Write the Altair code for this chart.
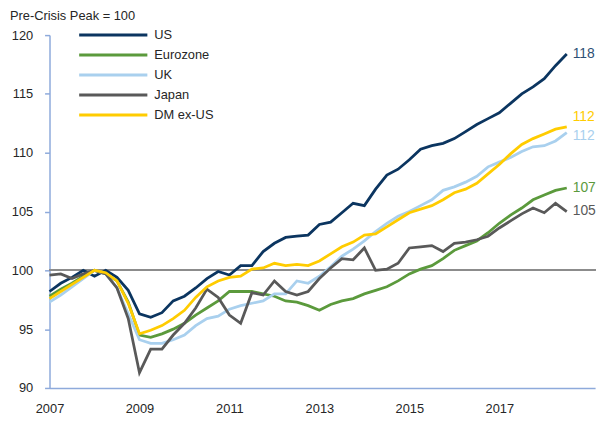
import altair as alt
import pandas as pd

# ---- data (quarterly, 2007 Q1 .. 2018 Q3; pre-crisis peak = 100) ----
series_names = ["US", "Eurozone", "UK", "Japan", "DM ex-US"]
series_colors = ["#0b3560", "#5b9a3c", "#a9d0ee", "#595959", "#ffcc00"]
label_colors = ["#2d4f74", "#5b9a3c", "#a9d0ee", "#595959", "#ffcc00"]

start_year = 2007
n_quarters = 47

us = [98.2, 98.9, 99.4, 100.0, 99.5, 100.0, 99.4, 98.3, 96.3, 96.0, 96.4, 97.4, 97.8, 98.5,
      99.3, 99.9, 99.6, 100.4, 100.4, 101.6, 102.3, 102.8, 102.9, 103.0, 103.9, 104.1, 104.9,
      105.7, 105.5, 106.9, 108.1, 108.6, 109.4, 110.3, 110.6, 110.8, 111.2, 111.8, 112.4, 112.9,
      113.4, 114.2, 115.0, 115.6, 116.3, 117.4, 118.4]
eurozone = [97.8, 98.4, 98.9, 99.5, 100.0, 99.7, 99.1, 97.3, 94.5, 94.3, 94.6, 95.0, 95.5, 96.2,
            96.8, 97.4, 98.2, 98.2, 98.2, 98.0, 97.8, 97.4, 97.3, 97.0, 96.6, 97.1, 97.4, 97.6,
            98.0, 98.3, 98.6, 99.1, 99.7, 100.1, 100.4, 101.0, 101.7, 102.1, 102.5, 103.2, 104.0,
            104.7, 105.3, 106.0, 106.4, 106.8, 107.0]
uk = [97.3, 97.9, 98.6, 99.3, 100.0, 99.7, 98.5, 96.3, 94.1, 93.8, 93.8, 94.1, 94.5, 95.3, 95.9,
      96.1, 96.7, 97.0, 97.2, 97.4, 98.0, 98.0, 99.1, 98.9, 99.5, 100.3, 101.2, 101.8, 102.5,
      103.3, 104.0, 104.6, 105.0, 105.5, 106.0, 106.8, 107.1, 107.5, 108.0, 108.8, 109.2, 109.6,
      110.1, 110.5, 110.6, 111.0, 111.7]
japan = [99.6, 99.7, 99.3, 99.7, 100.0, 99.7, 98.5, 95.9, 91.3, 93.3, 93.3, 94.5, 95.5, 96.8,
         98.4, 97.7, 96.2, 95.5, 98.1, 97.9, 99.1, 98.2, 97.9, 98.2, 99.3, 100.2, 101.0, 100.9,
         101.9, 100.0, 100.1, 100.6, 101.9, 102.0, 102.1, 101.6, 102.3, 102.4, 102.6, 102.9,
         103.6, 104.2, 104.8, 105.3, 104.9, 105.7, 105.0]
dm_ex_us = [97.6, 98.2, 98.8, 99.4, 100.0, 99.8, 99.1, 97.2, 94.6, 94.9, 95.3, 95.9, 96.6, 97.7,
            98.6, 99.1, 99.4, 99.5, 100.1, 100.2, 100.6, 100.4, 100.5, 100.4, 100.8, 101.4, 102.0,
            102.4, 103.0, 103.1, 103.7, 104.3, 104.9, 105.2, 105.5, 106.0, 106.6, 106.9, 107.4,
            108.2, 109.0, 109.9, 110.7, 111.2, 111.6, 112.0, 112.2]

x_ticks = [2007, 2009, 2011, 2013, 2015, 2017]
y_ticks = [90, 95, 100, 105, 110, 115, 120]
title_text = "Pre-Crisis Peak = 100"

# ---- build tables ----
quarters = [start_year + i / 4 for i in range(n_quarters)]
values = [us, eurozone, uk, japan, dm_ex_us]
rows = []
for name, vals in zip(series_names, values):
    for q, v in zip(quarters, vals):
        rows.append({"series": name, "t": q, "value": v})
df = pd.DataFrame(rows)

end_df = pd.DataFrame({
    "series": series_names,
    "t": [quarters[-1]] * len(series_names),
    "value": [v[-1] for v in values],
    "label": [str(int(round(v[-1]))) for v in values],
    "lc": label_colors,
})
legend_df = pd.DataFrame({"series": series_names, "row": list(range(len(series_names)))})

FONT = "Liberation Sans, Arial, sans-serif"
AXIS_COLOR = "#8eaadb"
TEXT_COLOR = "#262626"

color_scale = alt.Scale(domain=series_names, range=series_colors)
x_enc = alt.X("t:Q", scale=alt.Scale(domain=[2007, 2019.13], nice=False, zero=False),
              axis=alt.Axis(values=x_ticks, format="d", title=None, ticks=False,
                            labelPadding=15, grid=False, labelFlush=False,
                            domain=True, domainColor=AXIS_COLOR, domainWidth=1.5,
                            labelFont=FONT, labelFontSize=13, labelColor=TEXT_COLOR))
y_enc = alt.Y("value:Q", scale=alt.Scale(domain=[90, 120], nice=False, zero=False),
              axis=alt.Axis(values=y_ticks, title=None, ticks=True, tickSize=5,
                            tickColor=AXIS_COLOR, tickWidth=1.5, labelPadding=12,
                            grid=False, labelFlush=False,
                            domain=True, domainColor=AXIS_COLOR, domainWidth=1.5,
                            labelFont=FONT, labelFontSize=13, labelColor=TEXT_COLOR))

base = alt.Chart(df)

ref = alt.Chart(df).mark_rule(color="#8c8c8c", strokeWidth=1.5).encode(y=alt.datum(100))

lines = base.mark_line(strokeWidth=2.8).encode(
    x=x_enc, y=y_enc,
    color=alt.Color("series:N", scale=color_scale, legend=None),
    detail="series:N",
    order="t:Q",
)

end_base = alt.Chart(end_df).encode(
    x="t:Q", y="value:Q", text="label:N",
    color=alt.Color("lc:N", scale=None),
)
end_main = end_base.transform_filter(
    "datum.series != 'DM ex-US' && datum.series != 'UK'"
).mark_text(align="left", baseline="middle", dx=6, fontSize=14, font=FONT)
end_dm = end_base.transform_filter("datum.series == 'DM ex-US'").mark_text(
    align="left", baseline="middle", dx=6, dy=-10, fontSize=14, font=FONT)
end_uk = end_base.transform_filter("datum.series == 'UK'").mark_text(
    align="left", baseline="middle", dx=6, dy=3, fontSize=14, font=FONT)

leg_base = alt.Chart(legend_df).transform_calculate(ypix="datum.row * 20.2")
leg_lines = leg_base.mark_rule(strokeWidth=3).encode(
    x=alt.value(30), x2=alt.value(99),
    y=alt.Y("ypix:Q", scale=None, axis=None),
    color=alt.Color("series:N", scale=color_scale, legend=None),
)
leg_text = leg_base.mark_text(align="left", baseline="middle", fontSize=13, font=FONT,
                              color=TEXT_COLOR).encode(
    x=alt.value(106),
    y=alt.Y("ypix:Q", scale=None, axis=None),
    text="series:N",
)

title_mark = alt.Chart(pd.DataFrame({"t": [title_text]})).mark_text(
    align="left", baseline="alphabetic", fontSize=13, font=FONT, color=TEXT_COLOR
).encode(x=alt.value(-40), y=alt.value(-15), text="t:N")

chart = alt.layer(
    ref, lines, end_main, end_dm, end_uk, leg_lines, leg_text, title_mark
).properties(
    width=552, height=357,
    autosize=alt.AutoSizeParams(type="none"),
    padding={"left": 42, "top": 25, "right": 8, "bottom": 30},
).configure_view(strokeWidth=0)

chart.save("out.html", embed_options={"renderer": "svg", "actions": False})
